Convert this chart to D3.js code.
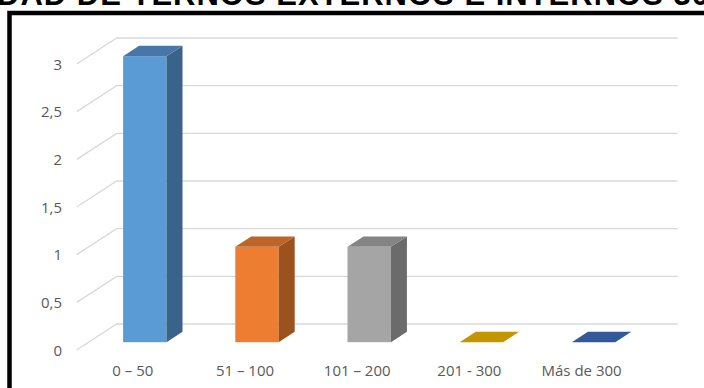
<!DOCTYPE html>
<html>
<head>
<meta charset="utf-8">
<script src="https://cdn.jsdelivr.net/npm/d3@7/dist/d3.min.js"></script>
<style>
  html, body { margin: 0; padding: 0; background: #ffffff; }
  svg { display: block; }
</style>
</head>
<body>
<script>
// Categories and counts
const categories = ["0 – 50", "51 – 100", "101 – 200", "201 - 300", "Más de 300"];
const values = [3, 1, 1, 0, 0];

// Face colours per bar: front, top, side
const frontColors = ["#5B9BD5", "#ED7D31", "#A5A5A5", "#FFC000", "#4472C4"];
const topColors   = ["#4777A8", "#BD6427", "#848484", "#C39500", "#34599B"];
const sideColors  = ["#3A638B", "#9C521F", "#6B6B6B", "#9A7500", "#2A4880"];

// Value axis
const yTicks = [0, 0.5, 1, 1.5, 2, 2.5, 3];
const yTickLabels = ["0", "0,5", "1", "1,5", "2", "2,5", "3"];

const titleText = "DAD DE TERNOS EXTERNOS E INTERNOS 30";

const W = 704, H = 388;
const svg = d3.select("body").append("svg").attr("width", W).attr("height", H);

// Front plane of the floor, and the depth of the 3D box
const plotLeft = 76.7, plotRight = 637.7;
const depthX = 40, depthY = -26;
const barFront = 0.3, barBack = 0.7;

const x = d3.scaleBand()
  .domain(categories)
  .range([plotLeft, plotRight])
  .paddingInner(0.613)
  .paddingOuter(0.3065);

const y = d3.scaleLinear().domain([0, 3]).range([350, 64]);

const font = "'Open Sans', 'Liberation Sans', sans-serif";

// Title (runs past the edges of the page)
svg.append("text")
  .attr("x", -3)
  .attr("y", 5)
  .attr("font-family", "'Liberation Sans', Arial, sans-serif")
  .attr("font-weight", "bold")
  .attr("font-size", 31)
  .attr("letter-spacing", 1)
  .attr("fill", "#000")
  .text(titleText);

// Chart frame
svg.append("rect")
  .attr("x", 9.5).attr("y", 13)
  .attr("width", 720).attr("height", 400)
  .attr("fill", "none")
  .attr("stroke", "#000")
  .attr("stroke-width", 4.5);

// Gridlines: side-wall diagonal then along the back wall
svg.append("g").selectAll("path")
  .data(yTicks)
  .join("path")
  .attr("d", v => {
    const yf = y(v);
    return `M${plotLeft},${yf}L${plotLeft + depthX},${yf + depthY}L${plotRight + depthX},${yf + depthY}`;
  })
  .attr("fill", "none")
  .attr("stroke", "#D9D9D9")
  .attr("stroke-width", 1.3);

// Value labels
svg.append("g").selectAll("text")
  .data(yTicks)
  .join("text")
  .attr("x", 62)
  .attr("y", v => y(v) + 5.5)
  .attr("text-anchor", "end")
  .attr("font-family", font)
  .attr("font-size", 15)
  .attr("fill", "#595959")
  .text((v, i) => yTickLabels[i]);

// Bars
const bw = x.bandwidth();
const bdx = depthX * (barBack - barFront), bdy = depthY * (barBack - barFront);
const bars = svg.append("g").selectAll("g")
  .data(categories.map((c, i) => ({ c, v: values[i], i })))
  .join("g");

bars.each(function (d) {
  const g = d3.select(this);
  const x0 = x(d.c) + depthX * barFront;
  const yb = y(0) + depthY * barFront;
  const yt = y(d.v) + depthY * barFront;
  if (d.v > 0) {
    g.append("rect")
      .attr("x", x0).attr("y", yt)
      .attr("width", bw).attr("height", yb - yt)
      .attr("fill", frontColors[d.i]);
    g.append("path")
      .attr("d", `M${x0 + bw},${yt}L${x0 + bw + bdx},${yt + bdy}L${x0 + bw + bdx},${yb + bdy}L${x0 + bw},${yb}Z`)
      .attr("fill", sideColors[d.i]);
  }
  g.append("path")
    .attr("d", `M${x0},${yt}L${x0 + bw},${yt}L${x0 + bw + bdx},${yt + bdy}L${x0 + bdx},${yt + bdy}Z`)
    .attr("fill", topColors[d.i]);
});

// Category labels
svg.append("g").selectAll("text")
  .data(categories)
  .join("text")
  .attr("x", c => x(c) + bw / 2)
  .attr("y", 375.5)
  .attr("text-anchor", "middle")
  .attr("font-family", font)
  .attr("font-size", 15)
  .attr("fill", "#595959")
  .text(c => c);
</script>
</body>
</html>
